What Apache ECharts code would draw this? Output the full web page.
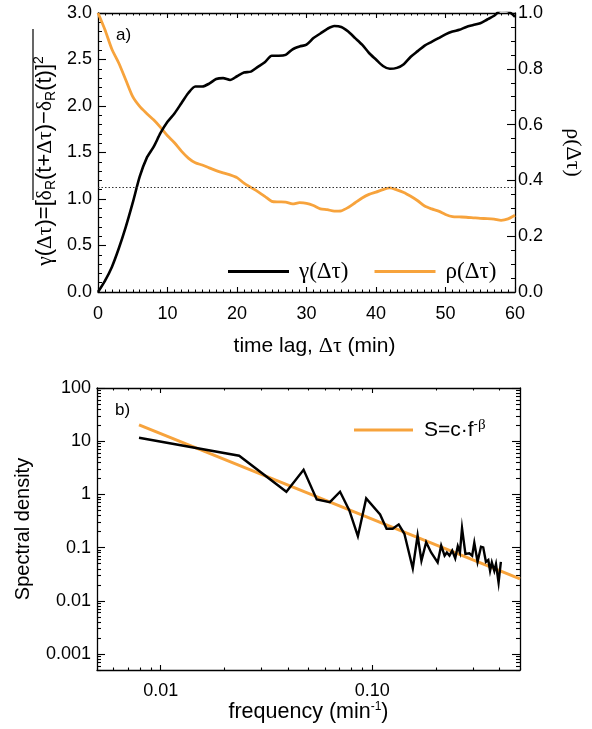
<!DOCTYPE html>
<html><head><meta charset="utf-8">
<script src="https://cdn.jsdelivr.net/npm/echarts@6/dist/echarts.min.js"></script>
<style>html,body{margin:0;padding:0;background:#fff}#c{width:592px;height:729px}</style>
</head><body><div id="c"></div>
<script>
// ---------- panel a) data ----------
const lagMinutes = [0,1,2,3,4,5,6,7,8,9,10,11,12,13,14,15,16,17,18,19,20,21,22,23,24,25,26,27,28,29,30,31,32,33,34,35,36,37,38,39,40,41,42,43,44,45,46,47,48,49,50,51,52,53,54,55,56,57,58,59,60];
const gammaValues = [0,0.12,0.27,0.47,0.70,0.96,1.24,1.44,1.56,1.71,1.83,1.92,2.03,2.14,2.21,2.21,2.24,2.29,2.30,2.28,2.32,2.36,2.37,2.42,2.47,2.54,2.54,2.55,2.61,2.64,2.66,2.73,2.78,2.83,2.86,2.85,2.80,2.73,2.66,2.57,2.50,2.43,2.40,2.41,2.45,2.53,2.59,2.65,2.69,2.73,2.77,2.80,2.82,2.85,2.87,2.89,2.93,2.97,3.03,3.02,2.96];
const rhoValues = [1.00,0.94,0.87,0.82,0.76,0.70,0.665,0.64,0.617,0.59,0.56,0.535,0.505,0.48,0.463,0.455,0.445,0.435,0.427,0.42,0.41,0.39,0.375,0.36,0.343,0.325,0.323,0.322,0.316,0.32,0.318,0.31,0.298,0.295,0.29,0.291,0.303,0.32,0.337,0.35,0.358,0.367,0.373,0.366,0.357,0.343,0.327,0.308,0.298,0.29,0.278,0.27,0.269,0.268,0.266,0.264,0.263,0.261,0.257,0.262,0.275];
const thresholdGamma = 1.13;

// ---------- panel b) data ----------
const specFreq = [0.0079,0.0235,0.0393,0.0474,0.0547,0.0631,0.0705,0.078,0.0856,0.0937,0.109,0.117,0.125,0.1335,0.142,0.1556,0.164,0.171,0.180,0.190,0.204,0.212,0.220,0.2255,0.232,0.239,0.247,0.254,0.260,0.266,0.276,0.288,0.297,0.304,0.315,0.327,0.335,0.345,0.354,0.361,0.368,0.378,0.385,0.396,0.406];
const specDensity = [11.6,5.33,1.12,2.89,0.80,0.714,1.12,0.50,0.164,0.84,0.42,0.226,0.226,0.273,0.182,0.0405,0.169,0.0567,0.126,0.081,0.0526,0.109,0.0705,0.081,0.0705,0.0877,0.063,0.106,0.081,0.232,0.076,0.078,0.0705,0.123,0.054,0.104,0.101,0.054,0.0585,0.0366,0.0526,0.0366,0.049,0.022,0.054];
const fitFreq = [0.0079, 0.5];
const fitDensity = [20.3, 0.0258];

const freqMajorTicks = [0.01, 0.1];
const freqTickLabels = ['0.01', '0.10'];
const densMajorTicks = [0.001, 0.01, 0.1, 1, 10, 100];
const densTickLabels = ['0.001', '0.01', '0.1', '1', '10', '100'];
const freqRange = [0.005, 0.5];
const densRange = [0.0005, 100];

// ---------- styling ----------
const SANS = 'Liberation Sans, Arial, Helvetica, sans-serif';
const SERIF = 'Liberation Serif, Times New Roman, serif';
const ORANGE = '#F7A33C';
const TICKF = 18, TITLEF = 20;

function minorOf(lo, hi) {
  const out = [];
  const d0 = Math.floor(Math.log10(lo)), d1 = Math.ceil(Math.log10(hi));
  for (let d = d0; d <= d1; d++) {
    for (let k = 2; k <= 9; k++) {
      const v = k * Math.pow(10, d);
      if (v >= lo * 0.999 && v <= hi * 1.001) out.push(Math.log10(v));
    }
  }
  return out;
}
const L = Math.log10;
function labelFor(majors, labels) {
  return function (v) {
    for (let i = 0; i < majors.length; i++) if (Math.abs(L(majors[i]) - v) < 1e-6) return labels[i];
    return '';
  };
}

const axLine = { show: true, onZero: false, lineStyle: { color: '#000', width: 1.3 } };
const noLine = { show: false, onZero: false };
const lbl = { color: '#000', fontFamily: SANS, fontSize: TICKF };

function overlayAxis(opts) {
  // decoration-only value axis in log10 space (ticks / labels for the log data axis)
  const base = {
    type: 'value', gridIndex: 1, min: opts.min, max: opts.max, position: opts.position,
    axisLine: opts.line ? axLine : noLine,
    axisTick: { show: true, inside: true, length: opts.len, customValues: opts.ticks, lineStyle: { color: '#000', width: 1.1 } },
    axisLabel: opts.labels ? Object.assign({ customValues: opts.ticks, formatter: opts.labels, margin: opts.margin }, lbl) : { show: false },
    splitLine: { show: false }
  };
  return Object.assign(base, opts.extra || {});
}

const chart = echarts.init(document.getElementById('c'), null, { renderer: 'canvas' });

const gammaTitle = '{g|γ}{s|(}{g|Δτ}{s|)=[}{g|δ}{sub|R}{s|(t+}{g|Δτ}{s|)−}{g|δ}{sub|R}{s|(t)]}{sup|2}';

const option = {
  animation: false,
  backgroundColor: '#fff',
  grid: [
    { left: 98, top: 13, width: 422, height: 279 },
    { left: 97, top: 388, width: 423, height: 282 }
  ],
  title: [
    { text: 'a)', left: 111, top: 22, textStyle: { fontFamily: SANS, fontSize: 17, fontWeight: 'normal', color: '#000' } },
    { text: 'b)', left: 110, top: 397, textStyle: { fontFamily: SANS, fontSize: 17, fontWeight: 'normal', color: '#000' } }
  ],
  legend: [
    {
      data: ['γ(Δτ)', 'ρ(Δτ)'], left: 223, top: 255, icon: 'rect', itemWidth: 61, itemHeight: 3, itemGap: 26,
      textStyle: { fontFamily: SERIF, fontSize: 23, color: '#000', padding: [0, 0, 0, 5] }
    },
    {
      data: ['fit'], left: 349, top: 413, icon: 'rect', itemWidth: 59, itemHeight: 3,
      formatter: function () { return '{n|S=c·f}{sup|-}{b|β}'; },
      textStyle: {
        color: '#000', padding: [0, 0, 0, 6],
        rich: {
          n: { fontFamily: SANS, fontSize: 21, color: '#000', lineHeight: 24 },
          sup: { fontFamily: SANS, fontSize: 13, color: '#000', verticalAlign: 'top', lineHeight: 24 },
          b: { fontFamily: SERIF, fontSize: 15, color: '#000', verticalAlign: 'top', lineHeight: 24 }
        }
      }
    }
  ],
  xAxis: [
    {
      type: 'value', gridIndex: 0, min: 0, max: 60, interval: 10, position: 'bottom',
      axisLine: axLine,
      axisTick: { show: true, inside: true, length: 5, lineStyle: { color: '#000', width: 1.1 } },
      minorTick: { show: true, splitNumber: 10, length: 2.5, lineStyle: { color: '#000', width: 1 } },
      axisLabel: Object.assign({ margin: 13 }, lbl),
      splitLine: { show: false },
      name: 'time lag, {g|Δτ} (min)', nameLocation: 'middle', nameGap: 43,
      nameTextStyle: { fontFamily: SANS, fontSize: 21, color: '#000', padding: [0, 0, 0, 16], rich: { g: { fontFamily: SERIF, fontSize: 22, color: '#000' } } }
    },
    {
      type: 'value', gridIndex: 0, min: 0, max: 60, interval: 10, position: 'top',
      axisLine: axLine,
      axisTick: { show: true, inside: true, length: 5, lineStyle: { color: '#000', width: 1.1 } },
      minorTick: { show: true, splitNumber: 10, length: 2.5, lineStyle: { color: '#000', width: 1 } },
      axisLabel: { show: false }, splitLine: { show: false }
    },
    { type: 'log', gridIndex: 1, min: freqRange[0], max: freqRange[1], show: false, logBase: 10 },
    overlayAxis({ min: L(freqRange[0]), max: L(freqRange[1]), position: 'bottom', line: true, len: 5, ticks: freqMajorTicks.map(L), labels: labelFor(freqMajorTicks, freqTickLabels), margin: 12,
      extra: { name: 'frequency (min{sup|-1})', nameLocation: 'middle', nameGap: 31,
        nameTextStyle: { fontFamily: SANS, fontSize: 21.5, color: '#000', rich: { sup: { fontFamily: SANS, fontSize: 12, color: '#000', verticalAlign: 'top', lineHeight: 22 } } } } }),
    overlayAxis({ min: L(freqRange[0]), max: L(freqRange[1]), position: 'bottom', line: false, len: 2.5, ticks: minorOf(freqRange[0], freqRange[1]) }),
    overlayAxis({ min: L(freqRange[0]), max: L(freqRange[1]), position: 'top', line: true, len: 5, ticks: freqMajorTicks.map(L) }),
    overlayAxis({ min: L(freqRange[0]), max: L(freqRange[1]), position: 'top', line: false, len: 2.5, ticks: minorOf(freqRange[0], freqRange[1]) })
  ],
  yAxis: [
    {
      type: 'value', gridIndex: 0, min: 0, max: 3, interval: 0.5, position: 'left',
      axisLine: axLine,
      axisTick: { show: true, inside: true, length: 8, lineStyle: { color: '#000', width: 1.1 } },
      minorTick: { show: true, splitNumber: 5, length: 4, lineStyle: { color: '#000', width: 1 } },
      axisLabel: Object.assign({ margin: 6, formatter: v => v.toFixed(1) }, lbl),
      splitLine: { show: false }
    },
    {
      type: 'value', gridIndex: 0, min: 0, max: 1, interval: 0.2, position: 'right',
      axisLine: axLine,
      axisTick: { show: true, inside: true, length: 8, lineStyle: { color: '#000', width: 1.1 } },
      minorTick: { show: true, splitNumber: 4, length: 4, lineStyle: { color: '#000', width: 1 } },
      axisLabel: Object.assign({ margin: 3, formatter: v => v.toFixed(1) }, lbl),
      splitLine: { show: false },
      name: 'ρ(Δτ)', nameLocation: 'middle', nameGap: 47, nameRotate: -90,
      nameTextStyle: { fontFamily: SERIF, fontSize: 22, color: '#000' }
    },
    { type: 'log', gridIndex: 1, min: densRange[0], max: densRange[1], show: false, logBase: 10 },
    overlayAxis({ min: L(densRange[0]), max: L(densRange[1]), position: 'left', line: true, len: 8, ticks: densMajorTicks.map(L), labels: labelFor(densMajorTicks, densTickLabels), margin: 6,
      extra: { name: 'Spectral density', nameLocation: 'middle', nameGap: 64, nameRotate: 90,
        nameTextStyle: { fontFamily: SANS, fontSize: TITLEF, color: '#000' } } }),
    overlayAxis({ min: L(densRange[0]), max: L(densRange[1]), position: 'left', line: false, len: 4, ticks: minorOf(densRange[0], densRange[1]) }),
    overlayAxis({ min: L(densRange[0]), max: L(densRange[1]), position: 'right', line: true, len: 8, ticks: densMajorTicks.map(L) }),
    overlayAxis({ min: L(densRange[0]), max: L(densRange[1]), position: 'right', line: false, len: 4, ticks: minorOf(densRange[0], densRange[1]) })
  ],
  series: [
    {
      name: 'γ(Δτ)', type: 'line', xAxisIndex: 0, yAxisIndex: 0, showSymbol: false, symbol: 'none', smooth: 0.25,
      data: lagMinutes.map((t, i) => [t, gammaValues[i]]),
      lineStyle: { color: '#000', width: 2.6 }, itemStyle: { color: '#000' }, z: 3,
      markLine: {
        silent: true, symbol: 'none', label: { show: false },
        lineStyle: { type: [1.5, 2], color: '#333', width: 1.2 },
        data: [{ yAxis: thresholdGamma }]
      }
    },
    {
      name: 'ρ(Δτ)', type: 'line', xAxisIndex: 0, yAxisIndex: 1, showSymbol: false, symbol: 'none', smooth: 0.25,
      data: lagMinutes.map((t, i) => [t, rhoValues[i]]),
      lineStyle: { color: ORANGE, width: 2.8 }, itemStyle: { color: ORANGE }, z: 2
    },
    {
      name: 'fit', type: 'line', xAxisIndex: 2, yAxisIndex: 2, showSymbol: false, symbol: 'none',
      data: fitFreq.map((f, i) => [f, fitDensity[i]]),
      lineStyle: { color: ORANGE, width: 3 }, itemStyle: { color: ORANGE }, z: 2
    },
    {
      name: 'spectrum', type: 'line', xAxisIndex: 2, yAxisIndex: 2, showSymbol: false, symbol: 'none',
      data: specFreq.map((f, i) => [f, specDensity[i]]),
      lineStyle: { color: '#000', width: 2.4, join: 'miter' }, itemStyle: { color: '#000' }, z: 3
    }
  ],
  graphic: [
    {
      type: 'text', x: 45, y: 161, rotation: Math.PI / 2,
      style: {
        text: gammaTitle, align: 'center', verticalAlign: 'middle',
        rich: {
          g: { fontFamily: SERIF, fontSize: 21.5, fill: '#000', lineHeight: 26 },
          s: { fontFamily: SANS, fontSize: 22, fill: '#000', lineHeight: 26 },
          sub: { fontFamily: SANS, fontSize: 14, fill: '#000', verticalAlign: 'bottom', lineHeight: 26 },
          sup: { fontFamily: SANS, fontSize: 14, fill: '#000', verticalAlign: 'top', lineHeight: 26 }
        }
      }
    },
    { type: 'line', shape: { x1: 33, y1: 29, x2: 33, y2: 200 }, style: { stroke: '#000', lineWidth: 1.2 } }
  ]
};
chart.setOption(option);
</script>
</body></html>
